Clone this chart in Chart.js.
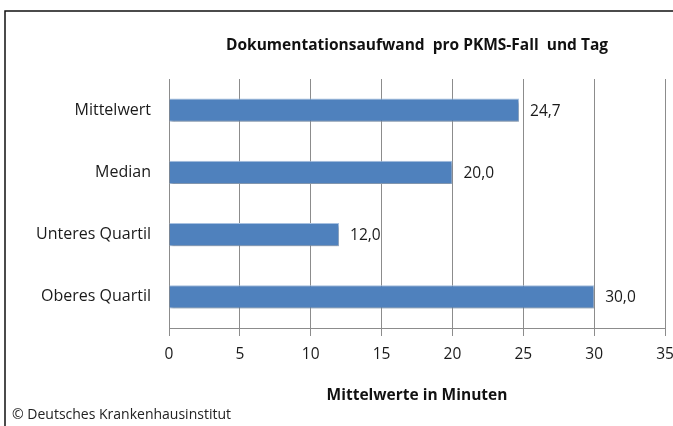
<!DOCTYPE html>
<html>
<head>
<meta charset="utf-8">
<title>Dokumentationsaufwand pro PKMS-Fall und Tag</title>
<script src="https://cdn.jsdelivr.net/npm/chart.js@4.4.0/dist/chart.umd.min.js"></script>
<style>
    html, body { margin: 0; padding: 0; background: #fff; }
    #wrap { width: 673px; height: 426px; }
</style>
</head>
<body>
<div id="wrap"><canvas id="aufwandChart" width="673" height="426"></canvas></div>
<script>
const categories = ["Mittelwert", "Median", "Unteres Quartil", "Oberes Quartil"];
const minutes = [24.7, 20.0, 12.0, 30.0];
const xTicks = [0, 5, 10, 15, 20, 25, 30, 35];

const chartTitle = "Dokumentationsaufwand  pro PKMS-Fall  und Tag";
const axisTitle = "Mittelwerte in Minuten";
const sourceNote = "\u00A9 Deutsches Krankenhausinstitut";

const gridGray = "#8c8c8c";
const fontStack = "'Open Sans', Lato, sans-serif";

Chart.defaults.font.family = fontStack;
Chart.defaults.color = "#1a1a1a";

// outer frame of the original image (cropped on right/bottom)
const framePlugin = {
    id: "frame",
    afterDraw(chart) {
        const ctx = chart.ctx;
        ctx.save();
        ctx.strokeStyle = "#111";
        ctx.lineWidth = 1.5;
        ctx.strokeRect(5, 11, 800, 600);
        ctx.restore();
    }
};

// soft shadow under the bars
const shadowPlugin = {
    id: "barShadow",
    beforeDatasetsDraw(chart) {
        const ctx = chart.ctx;
        ctx.save();
        ctx.shadowColor = "rgba(0,0,0,0.35)";
        ctx.shadowBlur = 3;
        ctx.shadowOffsetX = 1;
        ctx.shadowOffsetY = 2;
    },
    afterDatasetsDraw(chart) {
        chart.ctx.restore();
    }
};

// value labels right of each bar, German decimal comma
const valueLabels = {
    id: "valueLabels",
    afterDatasetsDraw(chart) {
        const ctx = chart.ctx;
        const meta = chart.getDatasetMeta(0);
        ctx.save();
        ctx.font = "15.5px " + fontStack;
        ctx.fillStyle = "#1a1a1a";
        ctx.textAlign = "left";
        ctx.textBaseline = "middle";
        meta.data.forEach((bar, i) => {
            const txt = minutes[i].toFixed(1).replace(".", ",");
            ctx.fillText(txt, bar.x + 11, bar.y + 1);
        });
        ctx.restore();
    }
};

const footerPlugin = {
    id: "sourceNote",
    afterDraw(chart) {
        const ctx = chart.ctx;
        ctx.save();
        ctx.font = "14px " + fontStack;
        ctx.fillStyle = "#222";
        ctx.textAlign = "left";
        ctx.textBaseline = "middle";
        ctx.fillText(sourceNote, 12, 415);
        ctx.restore();
    }
};

const ctx = document.getElementById("aufwandChart").getContext("2d");
new Chart(ctx, {
    type: "bar",
    data: {
        labels: categories,
        datasets: [{
            data: minutes,
            backgroundColor: "#4f81bd",
            borderColor: "#a9c3e3",
            borderWidth: 1,
            barPercentage: 0.37,
            categoryPercentage: 1.0
        }]
    },
    options: {
        indexAxis: "y",
        responsive: false,
        devicePixelRatio: 1,
        animation: false,
        layout: { padding: { left: 0, right: 8, top: 0, bottom: 0 } },
        plugins: {
            legend: { display: false },
            tooltip: { enabled: false },
            title: {
                display: true,
                text: chartTitle,
                fullSize: false,
                color: "#111",
                font: { size: 15.5, weight: "bold" },
                padding: { top: 36, bottom: 24.4 }
            }
        },
        scales: {
            x: {
                min: 0,
                max: 35,
                afterBuildTicks(scale) {
                    scale.ticks = xTicks.map(v => ({ value: v }));
                },
                afterFit(scale) {
                    scale.height = 98;
                    scale.paddingLeft = 0;
                    scale.paddingRight = 0;
                },
                grid: {
                    color: gridGray,
                    lineWidth: 1,
                    drawTicks: true,
                    tickLength: 8
                },
                border: { color: gridGray },
                ticks: {
                    padding: 9,
                    font: { size: 15.5 },
                    color: "#1a1a1a"
                },
                title: {
                    display: true,
                    text: axisTitle,
                    color: "#111",
                    font: { size: 15.5, weight: "bold" },
                    padding: { top: 0, bottom: 21 }
                }
            },
            y: {
                afterFit(scale) {
                    scale.width = 169;
                    scale.paddingTop = 0;
                    scale.paddingBottom = 0;
                },
                grid: { display: false, drawTicks: false },
                border: { color: gridGray },
                ticks: {
                    padding: 18,
                    font: { size: 16 },
                    color: "#1a1a1a"
                }
            }
        }
    },
    plugins: [framePlugin, shadowPlugin, valueLabels, footerPlugin]
});
</script>
</body>
</html>
